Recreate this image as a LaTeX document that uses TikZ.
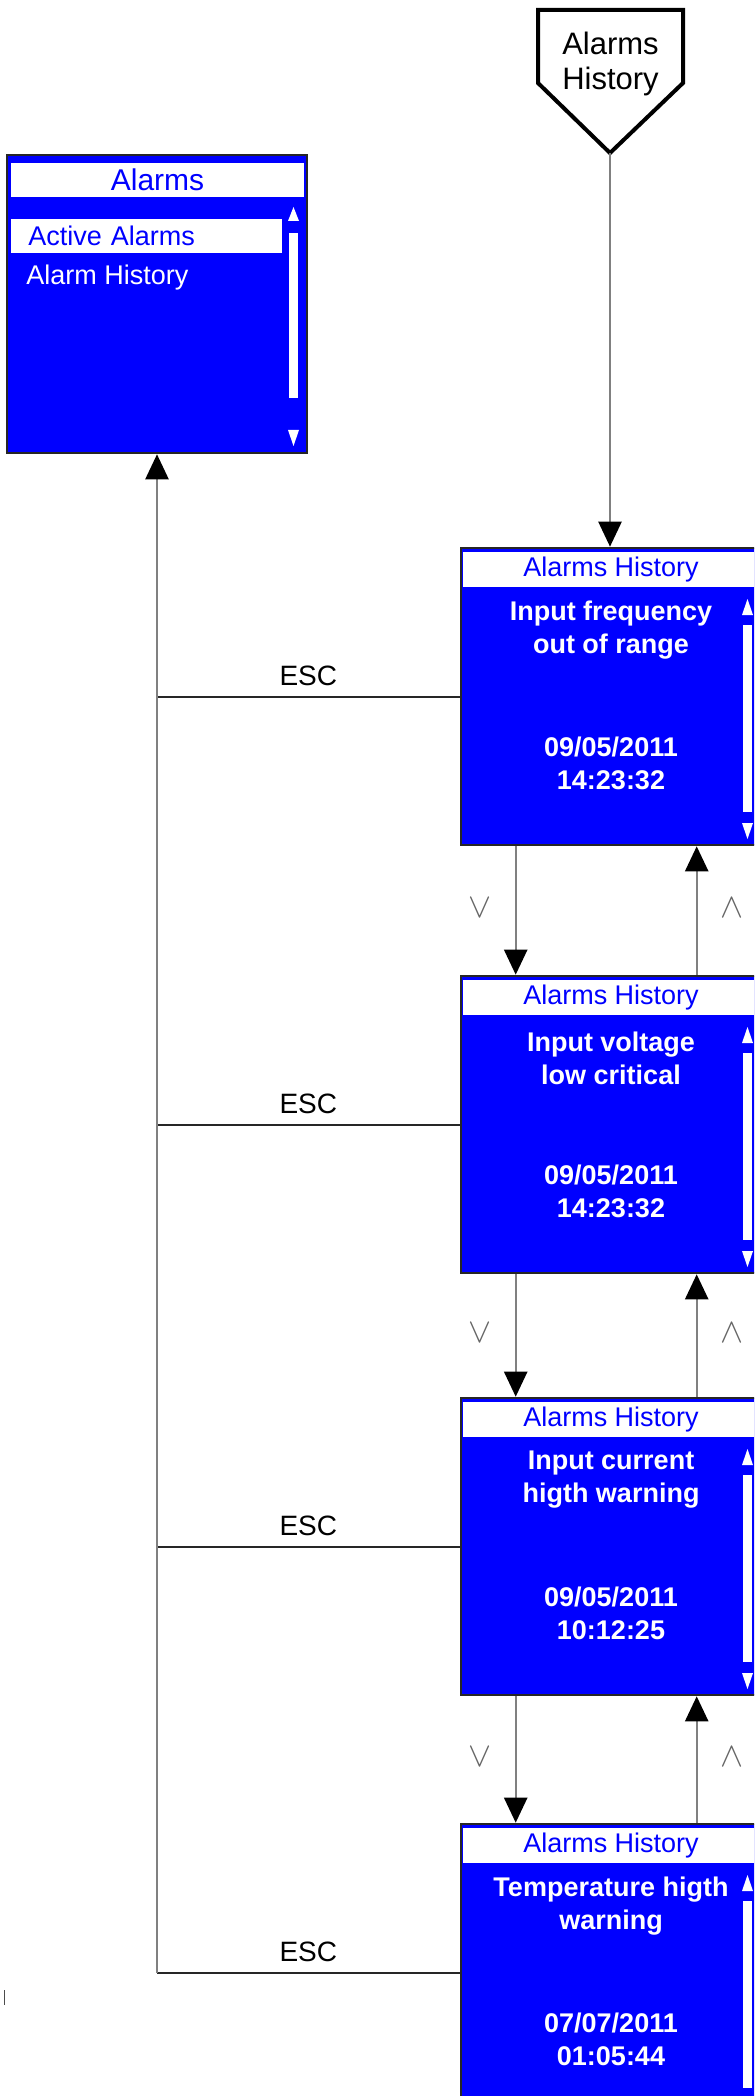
\documentclass[tikz,border=0pt]{standalone}
\usepackage{fontspec}
\setmainfont{Liberation Sans}
\usetikzlibrary{arrows.meta,calc}
\definecolor{lcdblue}{RGB}{0,0,255}

\begin{document}
\begin{tikzpicture}[x=0.5pt,y=-0.5pt,every node/.style={font=\fontsize{14}{16}\selectfont},
  screen/.style={draw=black!85,line width=1.3pt,fill=lcdblue,minimum width=150pt,minimum height=148.5pt,inner sep=0pt},
  titlebar/.style={fill=white,text=lcdblue,minimum width=148pt,minimum height=17.5pt,inner sep=0pt,font=\fontsize{13.5}{16}\selectfont},
  msg/.style={text=white,align=center,inner sep=0pt,font=\bfseries\fontsize{13.5}{16.5}\selectfont},
  flow/.style={draw=black!50,line width=1.2pt,-{Triangle[length=12.5pt,width=11.5pt,color=black]}},
  esc/.style={draw=black!85,line width=1pt},
  keylbl/.style={text=black!60,inner sep=0pt,font=\fontsize{18}{18}\selectfont}]
\useasboundingbox (0,0) rectangle (754,2096);
\clip (0,0) rectangle (754,2096);
% off-page connector
\draw[line width=2pt,line join=miter] (538,10) -- (683,10) -- (683,83) -- (610,153) -- (538,83) -- cycle;
\coordinate (histtip) at (610,153);
\node[align=center,inner sep=0pt,font=\fontsize{15.5}{17.5}\selectfont] (histref) at (610.5,64) {Alarms\\History};
% alarms menu screen
\node[screen,minimum height=149pt] (alarms) at (157,304) {};
\node[titlebar,minimum width=146.5pt,minimum height=17pt,font=\fontsize{15}{16}\selectfont] (alarmstitle) at (157.5,180) {Alarms};
\node[fill=white,text=lcdblue,anchor=west,inner xsep=8.5pt,inner ysep=0pt,text width=118.5pt,align=left,minimum height=17pt,font=\fontsize{13.5}{16}\selectfont] (active) at (11,236) {Active Alarms};
\node[text=white,anchor=west,inner sep=0pt,font=\fontsize{13.5}{16}\selectfont] (history) at (26,278) {Alarm History};
\fill[white] (293.5,207) -- (299,221) -- (288,221) -- cycle;
\fill[white] (288.5,233) rectangle (297.5,398);
\fill[white] (288,430) -- (299,430) -- (293.5,446) -- cycle;
% alarm history screens
\foreach \k/\ty/\msg/\stamp in {
  1/548/{Input frequency\\out of range}/{09/05/2011\\14:23:32},
  2/976/{Input voltage\\low critical}/{09/05/2011\\14:23:32},
  3/1398/{Input current\\higth warning}/{09/05/2011\\10:12:25},
  4/1824/{Temperature higth\\warning}/{07/07/2011\\01:05:44}}
{
  \node[screen] (hist\k) at (611,\ty+148.5) {};
  \node[titlebar] (hist\k title) at (611,\ty+21.5) {Alarms History};
  \node[msg] (hist\k msg) at (611,\ty+82) {\msg};
  \node[msg] (hist\k time) at (611,\ty+215) {\stamp};
  \fill[white] (747.5,\ty+51) -- (753,\ty+67) -- (742,\ty+67) -- cycle;
  \fill[white] (743,\ty+77) rectangle (752,\ty+264);
  \fill[white] (742,\ty+275) -- (753,\ty+275) -- (747.5,\ty+291) -- cycle;
  \draw[esc] (hist\k.west) -- (hist\k.west -| alarms.south) node[midway,above=1.5pt] {ESC};
}
\draw[flow] (histtip) -- (histtip |- hist1.north);
\draw[flow] (hist4.west -| alarms.south) -- (alarms.south);
% scrolling between entries
\foreach \a/\b in {1/2,2/3,3/4} {
  \draw[flow] ([xshift=28pt]hist\a.south west) -- ([xshift=28pt]hist\b.north west);
  \draw[flow] ([xshift=118.5pt]hist\b.north west) -- ([xshift=118.5pt]hist\a.south west);
  \node[keylbl] (dn\a) at ($(hist\a.south west)!0.5!(hist\b.north west)+(20,-3)$) {$\vee$};
  \node[keylbl] (up\a) at ($(hist\a.south west)!0.5!(hist\b.north west)+(272,-3)$) {$\wedge$};
}
\draw[black!70,line width=0.5pt] (4,1990) -- (4,2005);
\end{tikzpicture}
\end{document}
